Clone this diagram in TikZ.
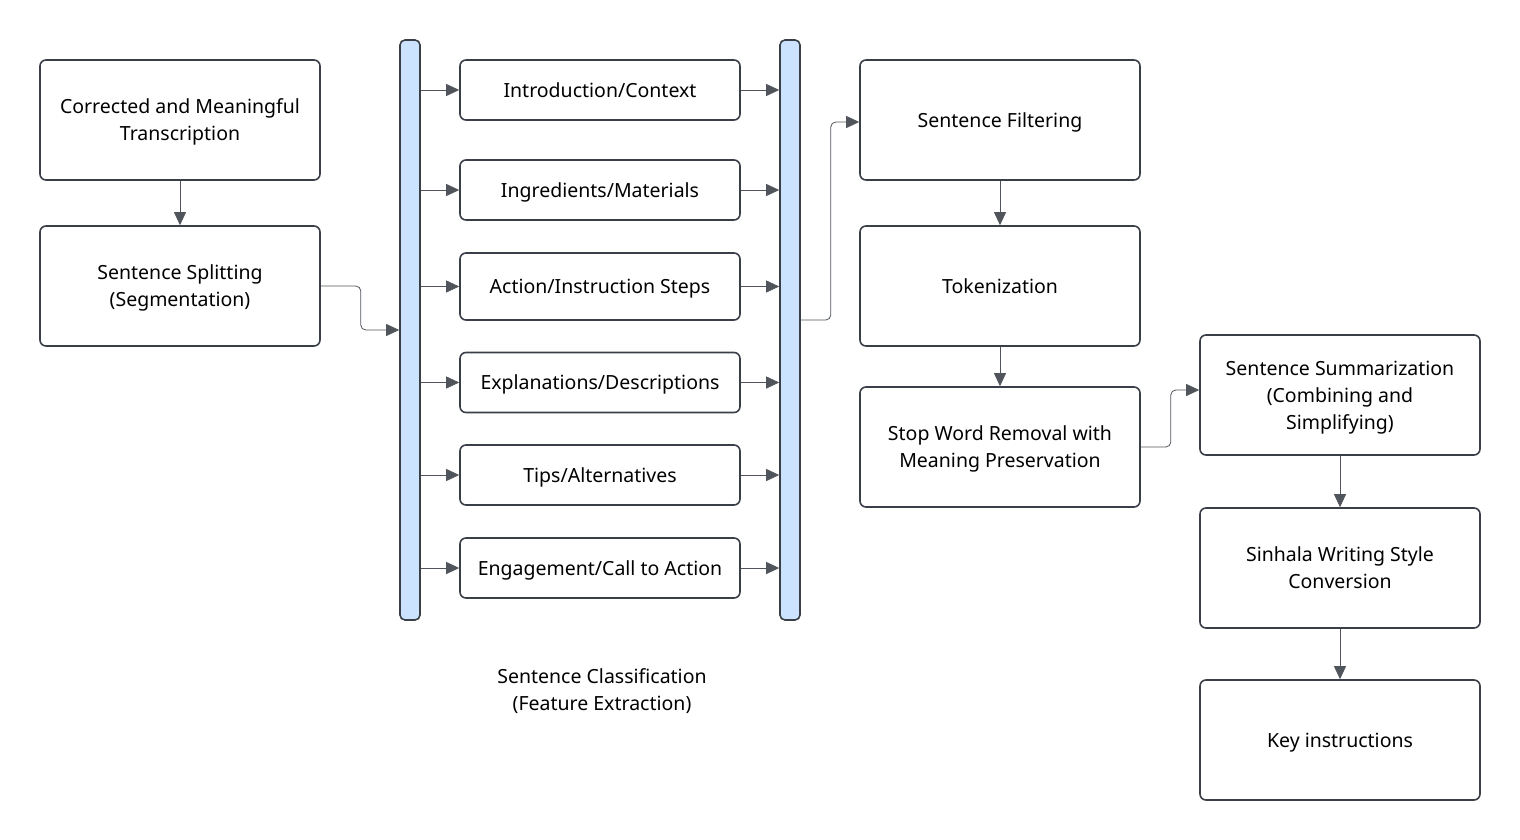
\documentclass[tikz,border=0pt]{standalone}
\usepackage{fontspec}
\setmainfont{Noto Sans}
\usepackage{tikz}
\usetikzlibrary{positioning}
\usetikzlibrary{arrows.meta}
\pgfdeclarelayer{nodelayer}
\pgfdeclarelayer{edgelayer}
\pgfsetlayers{nodelayer,edgelayer,main}
\definecolor{boxline}{HTML}{3A3F47}
\definecolor{edgeline}{HTML}{50555C}
\definecolor{barfill}{HTML}{CCE3FF}
\tikzset{
  stepbox/.style={draw=boxline, line width=1.6pt, rounded corners=6pt, fill=white,
    minimum width=280pt, align=center, text depth=-1pt, font=\fontsize{19.5}{27}\selectfont},
  bigbox/.style={stepbox, minimum height=120pt},
  smallbox/.style={stepbox, minimum height=60pt},
  barbox/.style={draw=boxline, line width=1.6pt, rounded corners=5pt, fill=barfill,
    minimum width=20pt, minimum height=580pt},
  flow/.style={draw=edgeline, line width=0.8pt, rounded corners=5pt,
    -{Triangle[length=13pt,width=12pt]}},
}
\begin{document}
\begin{tikzpicture}[x=1pt, y=-1pt]
  \useasboundingbox (0,0) rectangle (1520,840);
  \begin{pgfonlayer}{nodelayer}
    \node [bigbox] (0) at (180, 120) {Corrected and Meaningful\\Transcription};
    \node [bigbox] (1) at (180, 286) {Sentence Splitting\\(Segmentation)};
    \node [barbox] (2) at (410, 330) {};
    \node [smallbox] (3) at (600, 90) {Introduction/Context};
    \node [smallbox] (4) at (600, 190) {Ingredients/Materials};
    \node [smallbox, minimum height=67pt] (5) at (600, 286.5) {Action/Instruction Steps};
    \node [smallbox] (6) at (600, 382.5) {Explanations/Descriptions};
    \node [smallbox] (7) at (600, 475) {Tips/Alternatives};
    \node [smallbox] (8) at (600, 568) {Engagement/Call to Action};
    \node [barbox] (9) at (790, 330) {};
    \node [align=center, font=\fontsize{19.5}{27}\selectfont] (10) at (602, 691) {Sentence Classification\\(Feature Extraction)};
    \node [bigbox] (11) at (1000, 120) {Sentence Filtering};
    \node [bigbox] (12) at (1000, 286) {Tokenization};
    \node [bigbox] (13) at (1000, 447) {Stop Word Removal with\\Meaning Preservation};
    \node [bigbox] (14) at (1340, 395) {Sentence Summarization\\(Combining and\\Simplifying)};
    \node [bigbox] (15) at (1340, 568) {Sinhala Writing Style\\Conversion};
    \node [bigbox] (16) at (1340, 740) {Key instructions};
  \end{pgfonlayer}
  \begin{pgfonlayer}{edgelayer}
    \draw [flow] (0.south) to (1.north);
    \draw [flow] (1.east) -- ++(40, 0) |- (2.west |- 0, 330);
    \foreach \n in {3, 4, 5, 6, 7, 8} {
      \draw [flow] (2.east |- \n.west) to (\n.west);
      \draw [flow] (\n.east) to (9.west |- \n.east);
    }
    \draw [flow] (9.east |- 0, 320) -- ++(30, 0) |- ([yshift=-2pt]11.west);
    \draw [flow] (11.south) to (12.north);
    \draw [flow] (12.south) to (13.north);
    \draw [flow] (13.east) -- ++(30, 0) |- ([yshift=5pt]14.west);
    \draw [flow] (14.south) to (15.north);
    \draw [flow] (15.south) to (16.north);
  \end{pgfonlayer}
\end{tikzpicture}
\end{document}
